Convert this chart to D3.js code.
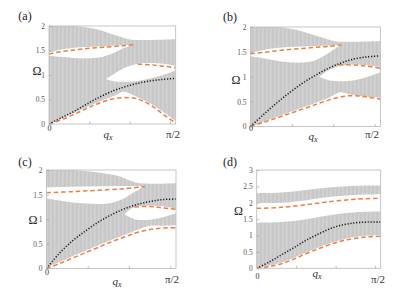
<!DOCTYPE html>
<html><head><meta charset="utf-8">
<script src="https://cdn.jsdelivr.net/npm/d3@7"></script>
<style>body{margin:0;background:#fff} svg{display:block}</style>
</head><body><svg id="c" width="410" height="290"></svg>
<script>
// ---------------- data: [q (fraction of pi/2), Omega] ----------------
// panel (a)
const aTop     = [[0,2],[0.2,2],[0.3,1.97],[0.4,1.92],[0.5,1.83],[0.6,1.75],[0.65,1.72],[1,1.73]];
const aBottom  = [[0,0],[0.2,0.23],[0.4,0.46],[0.5,0.56],[0.59,0.66],[0.68,0.57],[0.8,0.42],[0.9,0.25],[1,0.06]];
const aGap1Top = [[0,1.46],[0.1,1.52],[0.2,1.555],[0.3,1.57],[0.4,1.58],[0.5,1.595],[0.6,1.61],[0.67,1.625]];
const aGap1Bot = [[0,1.39],[0.1,1.37],[0.2,1.345],[0.3,1.34],[0.4,1.36],[0.5,1.44],[0.6,1.56],[0.67,1.625]];
const aGap2Top = [[0.45,0.92],[0.5,1.0],[0.55,1.08],[0.6,1.15],[0.7,1.23],[0.8,1.245],[0.9,1.23],[1,1.19]];
const aGap2Bot = [[0.45,0.92],[0.5,0.88],[0.6,0.86],[0.7,0.88],[0.8,0.93],[0.9,1.0],[1,1.09]];
const aDashUp  = [[0,1.43],[0.1,1.48],[0.2,1.51],[0.3,1.54],[0.4,1.56],[0.5,1.58],[0.6,1.60],[0.67,1.62]];
const aDashMid = [[0.70,1.22],[0.8,1.21],[0.9,1.18],[1,1.15]];
const aDashLow = [[0,0],[0.1,0.09],[0.2,0.20],[0.3,0.32],[0.4,0.43],[0.5,0.51],[0.6,0.54],[0.7,0.51],[0.8,0.39],[0.9,0.20],[1,0.02]];
const aDot     = [[0,0],[0.1,0.13],[0.2,0.26],[0.3,0.41],[0.4,0.55],[0.5,0.67],[0.6,0.76],[0.7,0.83],[0.8,0.88],[0.9,0.91],[1,0.93]];

// panel (b)
const bTop     = [[0,2],[0.2,2],[0.3,1.97],[0.4,1.91],[0.5,1.83],[0.6,1.75],[0.66,1.71],[1,1.72]];
const bBottom  = [[0,0],[0.2,0.19],[0.4,0.38],[0.6,0.58],[0.69,0.69],[0.76,0.65],[0.86,0.61],[1,0.58]];
const bGap1Top = [[0,1.48],[0.1,1.54],[0.2,1.58],[0.3,1.60],[0.4,1.61],[0.5,1.62],[0.6,1.63],[0.7,1.645]];
const bGap1Bot = [[0,1.41],[0.1,1.37],[0.2,1.32],[0.3,1.29],[0.4,1.285],[0.5,1.33],[0.58,1.44],[0.64,1.55],[0.7,1.645]];
const bGap2Top = [[0.53,1.0],[0.6,1.13],[0.7,1.22],[0.8,1.245],[0.9,1.23],[1,1.19]];
const bGap2Bot = [[0.53,1.0],[0.6,0.93],[0.7,0.91],[0.8,0.93],[0.9,1.0],[1,1.09]];
const bDashUp  = [[0,1.46],[0.1,1.49],[0.2,1.52],[0.3,1.55],[0.4,1.57],[0.5,1.59],[0.6,1.61],[0.7,1.64]];
const bDashMid = [[0.68,1.24],[0.8,1.235],[0.9,1.21],[1,1.17]];
const bDashLow = [[0,0],[0.1,0.085],[0.2,0.17],[0.3,0.26],[0.4,0.35],[0.5,0.44],[0.6,0.53],[0.7,0.60],[0.8,0.62],[0.9,0.59],[1,0.55]];
const bDot     = [[0,0],[0.1,0.24],[0.2,0.47],[0.3,0.68],[0.4,0.87],[0.5,1.03],[0.6,1.17],[0.7,1.28],[0.8,1.36],[0.9,1.40],[1,1.42]];

// panel (c)
const cTop     = [[0,2],[0.2,2],[0.3,1.98],[0.4,1.95],[0.5,1.91],[0.58,1.86],[0.65,1.78],[0.72,1.73],[1,1.73]];
const cBottom  = [[0,0.02],[0.1,0.13],[0.2,0.25],[0.3,0.36],[0.4,0.47],[0.5,0.58],[0.6,0.68],[0.7,0.78],[0.78,0.86],[0.9,0.87],[1,0.88]];
const cGap1Top = [[0,1.65],[0.2,1.66],[0.4,1.67],[0.6,1.675],[0.76,1.67]];
const cGap1Bot = [[0,1.42],[0.1,1.38],[0.2,1.34],[0.3,1.32],[0.4,1.31],[0.5,1.33],[0.58,1.40],[0.67,1.54],[0.76,1.67]];
const cGap2Top = [[0.6,1.10],[0.65,1.21],[0.7,1.26],[0.8,1.28],[0.9,1.26],[1,1.22]];
const cGap2Bot = [[0.6,1.10],[0.65,1.03],[0.7,0.99],[0.8,0.99],[0.9,1.04],[1,1.12]];
const cDashUp  = [[0,1.54],[0.2,1.56],[0.4,1.59],[0.6,1.62],[0.76,1.665]];
const cDashMid = [[0.68,1.25],[0.8,1.26],[0.9,1.23],[1,1.20]];
const cDashLow = [[0,0],[0.1,0.10],[0.2,0.21],[0.3,0.32],[0.4,0.43],[0.5,0.54],[0.6,0.64],[0.7,0.73],[0.8,0.79],[0.9,0.82],[1,0.83]];
const cDot     = [[0,0],[0.1,0.31],[0.2,0.56],[0.3,0.76],[0.4,0.94],[0.5,1.09],[0.6,1.21],[0.7,1.30],[0.8,1.36],[0.9,1.40],[1,1.41]];

// panel (d)
const dLowBandTop = [[0,1.39],[0.2,1.41],[0.4,1.50],[0.6,1.63],[0.8,1.71],[1,1.73]];
const dLowBandBot = [[0,0],[0.1,0.08],[0.2,0.18],[0.3,0.32],[0.4,0.49],[0.5,0.64],[0.6,0.78],[0.7,0.89],[0.8,0.96],[0.9,1.0],[1,1.02]];
const dUpBandTop  = [[0,2.29],[0.2,2.31],[0.4,2.39],[0.6,2.47],[0.8,2.52],[1,2.53]];
const dUpBandBot  = [[0,1.99],[0.2,2.0],[0.4,2.08],[0.6,2.18],[0.8,2.24],[1,2.26]];
const dDashUp  = [[0,1.83],[0.2,1.86],[0.4,1.94],[0.6,2.04],[0.8,2.11],[1,2.14]];
const dDashLow = [[0,0],[0.1,0.05],[0.2,0.14],[0.3,0.28],[0.4,0.45],[0.5,0.60],[0.6,0.74],[0.7,0.85],[0.8,0.92],[0.9,0.96],[1,0.98]];
const dDot     = [[0,0],[0.1,0.19],[0.2,0.41],[0.3,0.63],[0.4,0.86],[0.5,1.05],[0.6,1.22],[0.7,1.33],[0.8,1.39],[0.9,1.41],[1,1.41]];

const yTicks2 = [0, 0.5, 1, 1.5, 2];
const yTicks3 = [0, 0.5, 1, 1.5, 2, 2.5, 3];
const xMinorTicks = [0.3183, 0.6366, 0.9549];
const panelLabels = ["(a)", "(b)", "(c)", "(d)"];

// ---------------- layout ----------------
const panels = [
  {lab:panelLabels[0], x0:49, x1:175.7, yb:124, yt:26, ymax:2, yt_:yTicks2,
   bands:[[aTop,aBottom]], gaps:[[aGap1Top,aGap1Bot],[aGap2Top,aGap2Bot]],
   dashes:[aDashUp,aDashMid,aDashLow], dot:aDot,
   labPos:[25,20], omPos:[37,75], zeroPos:[49.5,131], qPos:[108,138], piPos:[173,138]},
  {lab:panelLabels[1], x0:250.5, x1:380.5, yb:126.5, yt:27, ymax:2, yt_:yTicks2,
   bands:[[bTop,bBottom]], gaps:[[bGap1Top,bGap1Bot],[bGap2Top,bGap2Bot]],
   dashes:[bDashUp,bDashMid,bDashLow], dot:bDot,
   labPos:[230,20.5], omPos:[236,83.5], zeroPos:[251,131], qPos:[313,140], piPos:[372,138]},
  {lab:panelLabels[2], x0:46.5, x1:176, yb:268.5, yt:170, ymax:2, yt_:yTicks2,
   bands:[[cTop,cBottom]], gaps:[[cGap1Top,cGap1Bot],[cGap2Top,cGap2Bot]],
   dashes:[cDashUp,cDashMid,cDashLow], dot:cDot,
   labPos:[25,166], omPos:[33,223.5], zeroPos:[47,275], qPos:[117,284.5], piPos:[172,283]},
  {lab:panelLabels[3], x0:256.7, x1:380.7, yb:268.3, yt:170, ymax:3, yt_:yTicks3,
   bands:[[dLowBandTop,dLowBandBot],[dUpBandTop,dUpBandBot]], gaps:[],
   dashes:[dDashUp,dDashLow], dot:dDot,
   labPos:[230,166], omPos:[238.5,215], zeroPos:[257.5,278.5], qPos:[317,276.5], piPos:[378,283]}
];

const svg = d3.select("#c");
const defs = svg.append("defs");
const pat = defs.append("pattern").attr("id","stripe").attr("patternUnits","userSpaceOnUse")
  .attr("width",4).attr("height",10);
pat.append("rect").attr("width",4).attr("height",10).attr("fill","#c8c8c8");
pat.append("rect").attr("x",2).attr("width",1.6).attr("height",10).attr("fill","#d2d2d2");

const SERIF = "'Liberation Serif','DejaVu Serif',serif";
const ORANGE = "#ef7d45";

panels.forEach((p, i) => {
  const x = d3.scaleLinear().domain([0,1]).range([p.x0, p.x1]);
  const y = d3.scaleLinear().domain([0,p.ymax]).range([p.yb, p.yt]);
  const g = svg.append("g");
  const cid = "clip"+i;
  defs.append("clipPath").attr("id",cid).append("rect")
    .attr("x",p.x0).attr("y",p.yt).attr("width",p.x1-p.x0).attr("height",p.yb-p.yt);
  const plot = g.append("g").attr("clip-path",`url(#${cid})`);

  const ln = d3.line().x(d=>x(d[0])).y(d=>y(d[1])).curve(d3.curveCatmullRom.alpha(0.5));
  const poly = (top, bot) => ln(top) + "L" + ln(bot.slice().reverse()).slice(1) + "Z";

  p.bands.forEach(([t,b]) => plot.append("path").attr("d", poly(t,b)).attr("fill","url(#stripe)"));
  p.gaps.forEach(([t,b]) => plot.append("path").attr("d", poly(t,b)).attr("fill","#fff"));

  p.dashes.forEach(ds => plot.append("path").attr("d", ln(ds)).attr("fill","none")
    .attr("stroke",ORANGE).attr("stroke-width",1.5).attr("stroke-dasharray","4.5,2.8"));
  plot.append("path").attr("d", ln(p.dot)).attr("fill","none")
    .attr("stroke","#1a1a1a").attr("stroke-width",1.5).attr("stroke-dasharray","1.2,1.7");

  // frame
  g.append("rect").attr("x",p.x0).attr("y",p.yt).attr("width",p.x1-p.x0).attr("height",p.yb-p.yt)
    .attr("fill","none").attr("stroke","#b8b8b8").attr("stroke-width",0.8);

  // y axis
  const ya = g.append("g").attr("transform",`translate(${p.x0},0)`)
    .call(d3.axisLeft(y).tickValues(p.yt_).tickSize(-2.5).tickPadding(4).tickFormat(d3.format("")));
  ya.select(".domain").remove();
  ya.selectAll("line").attr("stroke","#999").attr("stroke-width",0.6);
  ya.selectAll("text").attr("font-family",SERIF).attr("font-size",7.5).attr("fill","#555");

  // x axis (minor ticks only)
  const xa = g.append("g").attr("transform",`translate(0,${p.yb})`)
    .call(d3.axisBottom(x).tickValues(xMinorTicks).tickSize(-2.5).tickFormat(""));
  xa.select(".domain").remove();
  xa.selectAll("line").attr("stroke","#999").attr("stroke-width",0.6);

  // texts
  g.append("text").attr("x",p.labPos[0]).attr("y",p.labPos[1]).attr("text-anchor","middle")
    .attr("font-family",SERIF).attr("font-size",12).attr("fill","#222").text(p.lab);
  g.append("text").attr("x",p.omPos[0]).attr("y",p.omPos[1]).attr("text-anchor","middle")
    .attr("font-family",SERIF).attr("font-size",12).attr("fill","#222").text("Ω");
  g.append("text").attr("x",p.zeroPos[0]).attr("y",p.zeroPos[1]).attr("text-anchor","middle")
    .attr("font-family",SERIF).attr("font-size",8).attr("fill","#333").text("0");
  const q = g.append("text").attr("x",p.qPos[0]).attr("y",p.qPos[1]).attr("text-anchor","middle")
    .attr("font-family",SERIF).attr("font-size",11).attr("fill","#333");
  q.append("tspan").attr("font-style","italic").text("q");
  q.append("tspan").attr("font-style","italic").attr("font-size",8).attr("dy",2).text("x");
  g.append("text").attr("x",p.piPos[0]).attr("y",p.piPos[1]).attr("text-anchor","middle")
    .attr("font-family",SERIF).attr("font-size",11).attr("fill","#333").text("π/2");
});
</script></body></html>
